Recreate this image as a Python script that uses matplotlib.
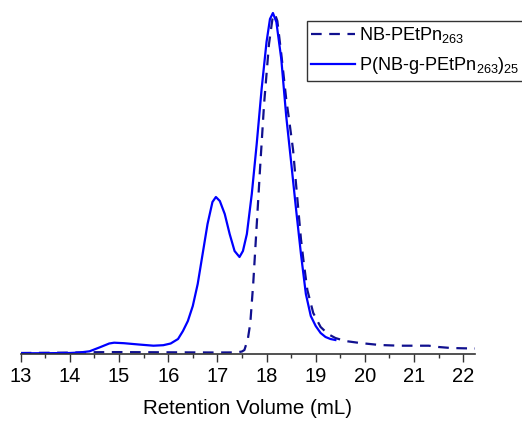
import numpy as np
import matplotlib
matplotlib.use("Agg")
from matplotlib import pyplot as plt
from matplotlib.ticker import MultipleLocator

# GPC traces (retention volume in mL, normalised RI signal)
vol_macro = [13.0, 13.5, 14.0, 14.5, 15.0, 15.5, 16.0, 16.5, 17.0, 17.4, 17.5,
             17.55, 17.62, 17.67, 17.73, 17.81, 17.87, 17.95, 18.05, 18.12,
             18.17, 18.22, 18.3, 18.4, 18.46, 18.54, 18.6, 18.7, 18.75, 18.83,
             18.95, 19.1, 19.25, 19.4, 19.6, 19.9, 20.3, 20.7, 21.0, 21.3,
             21.5, 21.75, 22.0, 22.24]
sig_macro = [1.0, 1.2, 1.4, 1.8, 1.9, 1.8, 1.7, 1.6, 1.5, 1.6, 2.5,
             4, 15, 31, 71, 137, 187, 250, 310, 335,
             340, 333, 300, 255, 234, 204, 170, 115, 94, 64,
             41, 27, 20, 16, 13, 11, 9, 8.3, 8.3, 8.3,
             7, 6, 5.7, 5.5]

vol_brush = [13.0, 13.5, 14.0, 14.2, 14.4, 14.6, 14.8, 14.9, 15.1, 15.4, 15.7,
             15.9, 16.05, 16.2, 16.3, 16.4, 16.5, 16.6, 16.7, 16.8, 16.9,
             16.97, 17.05, 17.15, 17.25, 17.35, 17.45, 17.52, 17.6, 17.7,
             17.8, 17.9, 18.0, 18.07, 18.13, 18.2, 18.3, 18.4, 18.5, 18.6,
             18.7, 18.8, 18.9, 19.0, 19.1, 19.2, 19.3, 19.4]
sig_brush = [0.7, 0.8, 1.0, 1.5, 2.7, 6.5, 10.5, 11.3, 10.8, 9.5, 8.3,
             8.8, 10.5, 15, 23, 33, 48, 70, 100, 130, 152,
             157, 153, 140, 120, 103, 97, 103, 120, 160,
             210, 265, 312, 335, 341, 332, 295, 238, 192, 145,
             100, 60, 38, 28, 21, 17, 15, 14]

labels = ["NB-PEtPn$_{263}$", "P(NB-g-PEtPn$_{263}$)$_{25}$"]

plt.rcParams["font.family"] = ["Liberation Sans", "DejaVu Sans"]
plt.rcParams["mathtext.fontset"] = "custom"
plt.rcParams["mathtext.rm"] = "Liberation Sans"
plt.rcParams["mathtext.default"] = "regular"

fig = plt.figure(figsize=(5.22, 4.21), dpi=100)
ax = fig.add_axes([20.7 / 522, 1 - 354 / 421, (475 - 20.7) / 522, 354 / 421])

peak = max(sig_brush)
ax.plot(vol_macro, np.array(sig_macro) / peak, color="#10108f", lw=1.6,
        linestyle=(0, (4.8, 3.4)), label=labels[0])
ax.plot(vol_brush, np.array(sig_brush) / peak, color="#0000ff", lw=1.6,
        label=labels[1])

ax.set_xlim(13, 22.24)
ax.set_ylim(0, 354 / 341)
ax.xaxis.set_major_locator(MultipleLocator(1))
ax.xaxis.set_minor_locator(MultipleLocator(0.5))
ax.tick_params(axis="x", which="major", direction="out", length=5.5, width=1,
               labelsize=14.5, color="#333333", pad=3.5)
ax.tick_params(axis="x", which="minor", direction="out", length=3, width=1,
               color="#333333")
ax.set_yticks([])
for side in ["left", "right", "top"]:
    ax.spines[side].set_visible(False)
ax.spines["bottom"].set_linewidth(1.2)
ax.spines["bottom"].set_color("#333333")
ax.set_xlabel("Retention Volume (mL)", fontsize=14.8, labelpad=10)

leg = ax.legend(loc="upper left", bbox_to_anchor=(306.7 / 522, 1 - 20.7 / 421),
                bbox_transform=fig.transFigure, fontsize=13.1, frameon=True,
                fancybox=False, edgecolor="black", borderpad=0.25,
                handlelength=2.4, handletextpad=0.2, labelspacing=0.55,
                borderaxespad=0)
leg.get_frame().set_linewidth(1.0)

fig.savefig("out.png", dpi=100)
